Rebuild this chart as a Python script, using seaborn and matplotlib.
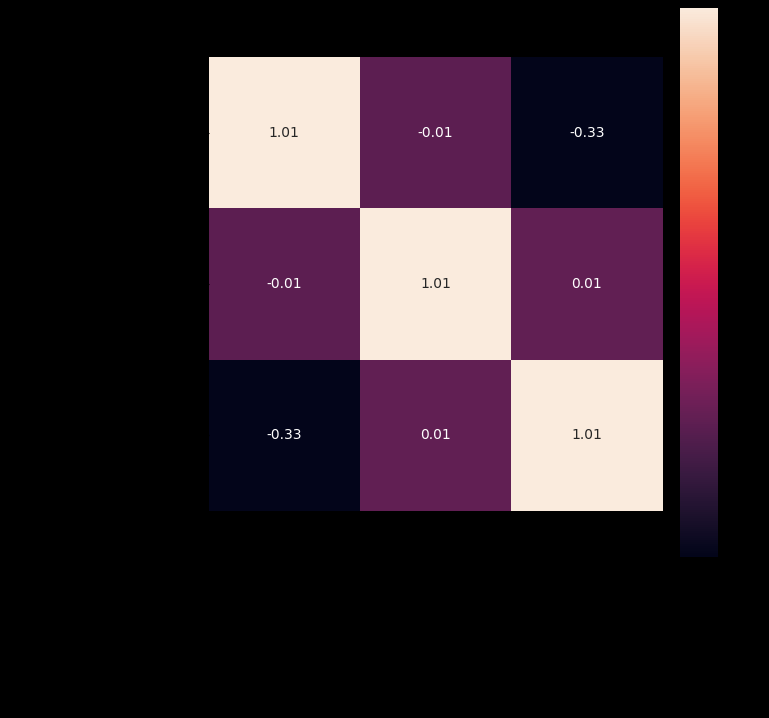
import seaborn as sns
import pandas as pd
import numpy as np
import matplotlib.pyplot as plt

# labels could not be read in the reference (black text on black), lengths kept similar
labels = ['Age', 'Number of prior orders', 'Average monthly spending']
row_age = [1.01, -0.01, -0.33]
row_orders = [-0.01, 1.01, 0.01]
row_spend = [-0.33, 0.01, 1.01]

corr = pd.DataFrame([row_age, row_orders, row_spend], index=labels, columns=labels)

fig = plt.figure(figsize=(7.69, 7.18), dpi=100, facecolor='black')
ax = fig.add_axes([0.2705, 0.2883, 0.5917, 0.6323])
cax = fig.add_axes([0.8843, 0.2242, 0.0494, 0.7646])

sns.heatmap(corr, annot=True, fmt='.2f', square=True, ax=ax, cbar_ax=cax)
ax.set_position([0.2705, 0.2883, 0.5917, 0.6323])
cax.set_position([0.8843, 0.2242, 0.0494, 0.7646])

fig.savefig('out.png', dpi=100, facecolor='black')
